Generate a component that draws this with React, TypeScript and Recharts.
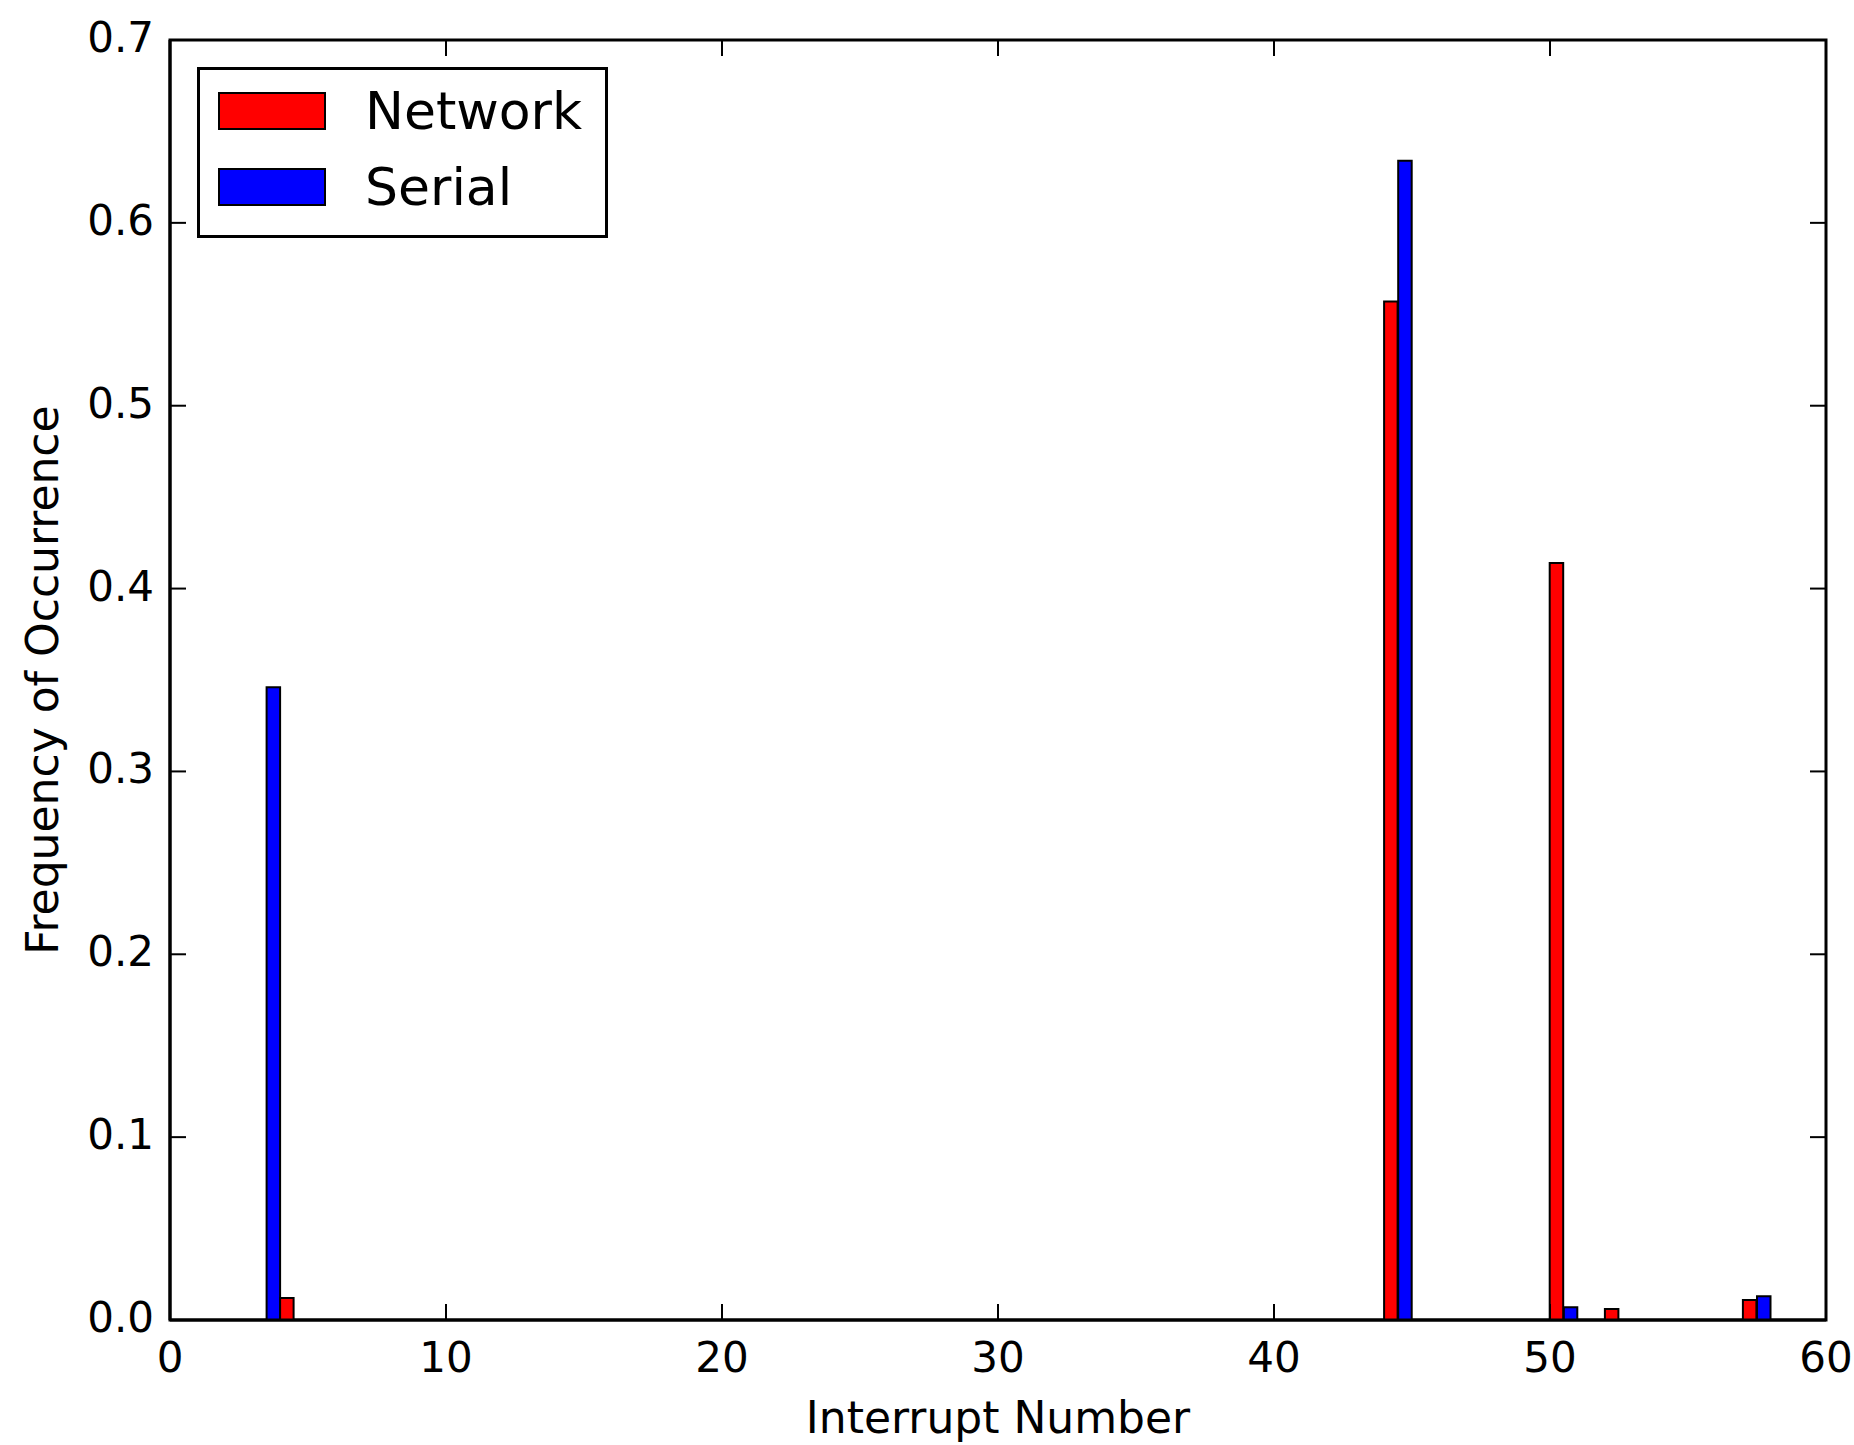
import { Bar, BarChart, Label, Legend, ReferenceArea, XAxis, YAxis } from 'recharts'

// interrupt numbers and the share of interrupts that hit each one
const interrupts = [4, 44, 45, 50, 51, 52, 57, 58]
const network = [0.012, 0.557, null, 0.414, null, 0.006, 0.011, null]
const serial = [0.346, null, 0.634, null, 0.007, null, null, 0.013]

const xTicks = [0, 10, 20, 30, 40, 50, 60]
const yTicks = [0, 0.1, 0.2, 0.3, 0.4, 0.5, 0.6, 0.7]
const xDomain = [0, 60]
const yDomain = [0, 0.7]
const legendOrder = ['Network', 'Serial']

const data = interrupts.map((irq, i) => ({
  irq,
  network: network[i],
  serial: serial[i],
}))

const FONT = '"DejaVu Sans", Verdana, sans-serif'
const PLOT = { left: 170, right: 1826, top: 40, bottom: 1320 }
const TICK_LEN = 16

function XTick(props: any) {
  const { x, payload } = props
  return (
    <g>
      <line x1={x} x2={x} y1={PLOT.bottom} y2={PLOT.bottom - TICK_LEN} stroke="#000" strokeWidth={2} />
      <line x1={x} x2={x} y1={PLOT.top} y2={PLOT.top + TICK_LEN} stroke="#000" strokeWidth={2} />
      <text x={x} y={1372} textAnchor="middle" fontSize={42} fontFamily={FONT} fill="#000">
        {payload.value}
      </text>
    </g>
  )
}

function YTick(props: any) {
  const { y, payload } = props
  return (
    <g>
      <line x1={PLOT.left} x2={PLOT.left + TICK_LEN} y1={y} y2={y} stroke="#000" strokeWidth={2} />
      <line x1={PLOT.right - TICK_LEN} x2={PLOT.right} y1={y} y2={y} stroke="#000" strokeWidth={2} />
      <text x={154} y={y + 12} textAnchor="end" fontSize={42} fontFamily={FONT} fill="#000">
        {Number(payload.value).toFixed(1)}
      </text>
    </g>
  )
}

function XLabel(props: any) {
  const { viewBox } = props
  const cx = viewBox.x + viewBox.width / 2
  return (
    <text x={cx} y={1433} textAnchor="middle" fontSize={44} fontFamily={FONT} fill="#000">
      Interrupt Number
    </text>
  )
}

function YLabel(props: any) {
  const { viewBox } = props
  const cy = viewBox.y + viewBox.height / 2
  return (
    <text
      x={58}
      y={cy}
      textAnchor="middle"
      fontSize={44}
      fontFamily={FONT}
      fill="#000"
      transform={`rotate(-90, 58, ${cy})`}
    >
      Frequency of Occurrence
    </text>
  )
}

function LegendBox(props: any) {
  const items = [...(props.payload || [])].sort(
    (a: any, b: any) => legendOrder.indexOf(a.value) - legendOrder.indexOf(b.value),
  )
  return (
    <div
      style={{
        position: 'relative',
        width: 411,
        height: 171,
        boxSizing: 'border-box',
        border: '3px solid #000',
        background: '#fff',
        fontFamily: FONT,
      }}
    >
      {items.map((item: any, i: number) => (
        <div key={item.value}>
          <div
            style={{
              position: 'absolute',
              left: 18,
              top: 22 + i * 76,
              width: 108,
              height: 38,
              boxSizing: 'border-box',
              border: '2px solid #000',
              background: item.color,
            }}
          />
          <div
            style={{
              position: 'absolute',
              left: 165,
              top: 22 + i * 76,
              height: 38,
              lineHeight: '38px',
              fontSize: 52,
              color: '#000',
              whiteSpace: 'nowrap',
            }}
          >
            {item.value}
          </div>
        </div>
      ))}
    </div>
  )
}

export default function App() {
  return (
    <div style={{ position: 'absolute', left: 0, top: 0, background: '#fff' }}>
      <BarChart
        width={1854}
        height={1445}
        data={data}
        margin={{ top: 40, right: 28, bottom: 0, left: 0 }}
        barGap={0}
      >
        <XAxis
          dataKey="irq"
          type="number"
          domain={xDomain}
          ticks={xTicks}
          interval={0}
          allowDataOverflow
          height={125}
          tickLine={false}
          tick={<XTick />}
          axisLine={{ stroke: '#000', strokeWidth: 3 }}
        >
          <Label content={<XLabel />} />
        </XAxis>
        <YAxis
          type="number"
          domain={yDomain}
          ticks={yTicks}
          interval={0}
          allowDataOverflow
          width={170}
          tickLine={false}
          tick={<YTick />}
          axisLine={{ stroke: '#000', strokeWidth: 3 }}
        >
          <Label content={<YLabel />} />
        </YAxis>
        {/* frame around the plot area */}
        <ReferenceArea
          x1={xDomain[0]}
          x2={xDomain[1]}
          y1={yDomain[0]}
          y2={yDomain[1]}
          fill="none"
          fillOpacity={0}
          stroke="#000"
          strokeWidth={3}
          ifOverflow="visible"
        />
        <Legend
          layout="horizontal"
          verticalAlign="middle"
          align="center"
          content={<LegendBox />}
          wrapperStyle={{ left: 197, top: 67, width: 'auto' }}
        />
        <Bar
          dataKey="serial"
          name="Serial"
          fill="#0000ff"
          stroke="#000"
          strokeWidth={2}
          barSize={13.5}
          isAnimationActive={false}
        />
        <Bar
          dataKey="network"
          name="Network"
          fill="#ff0000"
          stroke="#000"
          strokeWidth={2}
          barSize={13.5}
          isAnimationActive={false}
        />
      </BarChart>
    </div>
  )
}
